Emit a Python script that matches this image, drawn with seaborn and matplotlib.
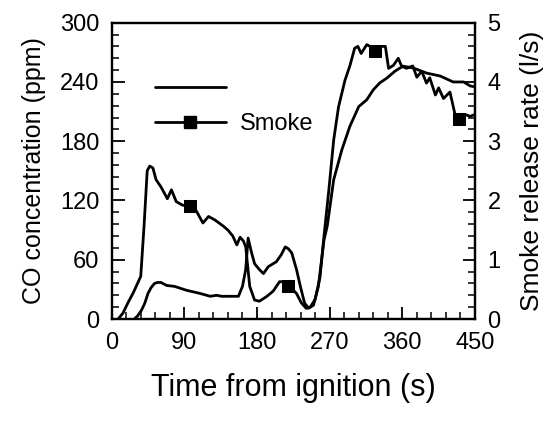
import matplotlib
matplotlib.use("Agg")
import matplotlib.pyplot as plt
import seaborn as sns
from matplotlib.lines import Line2D
from matplotlib.ticker import MultipleLocator

# ---- data ----
co_time = [28, 32, 37, 41, 45, 49, 53, 57, 61, 68, 78, 93, 109, 122, 130, 136,
           147, 157, 162, 166, 169, 173, 177, 183, 188, 194, 204, 210, 215, 219,
           223, 229, 234, 239, 244, 250, 256, 263, 267, 275, 285, 295, 306, 316,
           324, 332, 341, 351, 361, 374, 390, 407, 423, 436, 444, 450]
co_ppm = [0, 3, 9, 16, 26, 32, 36, 37, 37, 34, 33, 29, 26, 23, 24, 23,
          23, 23, 33, 50, 82, 68, 56, 50, 46, 53, 58, 65, 73, 71,
          67, 50, 32, 16, 11, 14, 33, 80, 94, 141, 171, 195, 215, 222,
          232, 239, 244, 251, 256, 254, 249, 246, 240, 240, 236, 235]

smoke_time = [8, 14, 20, 27, 33, 36, 40, 44, 47, 51, 55, 61, 69, 74, 80, 88,
              97, 105, 113, 120, 128, 138, 144, 150, 155, 159, 163, 166, 171,
              177, 183, 192, 200, 208, 215, 219, 224, 229, 235, 241, 246, 252,
              258, 263, 269, 275, 281, 289, 295, 301, 305, 309, 316, 320, 326,
              332, 339, 343, 349, 355, 359, 365, 373, 378, 384, 390, 394, 401,
              405, 411, 419, 425, 430, 438, 444, 450]
smoke_rate = [0.0, 0.1, 0.27, 0.45, 0.63, 0.72, 1.55, 2.5, 2.58, 2.55, 2.35,
              2.23, 2.03, 2.18, 1.98, 1.92, 1.9, 1.82, 1.62, 1.73, 1.67, 1.57,
              1.5, 1.4, 1.25, 1.38, 1.32, 1.22, 0.55, 0.32, 0.3, 0.38, 0.47,
              0.63, 0.63, 0.55, 0.5, 0.43, 0.27, 0.18, 0.2, 0.33, 0.7, 1.4,
              2.18, 3.02, 3.58, 4.03, 4.27, 4.57, 4.6, 4.48, 4.63, 4.6, 4.52,
              4.6, 4.6, 4.23, 4.28, 4.4, 4.27, 4.23, 4.27, 4.08, 4.18, 3.98,
              4.07, 3.78, 3.9, 3.72, 3.83, 3.47, 3.38, 3.45, 3.42, 3.45]
smoke_marker_times = [97, 219, 326, 430]

sns.set_style("ticks")
plt.rcParams["font.family"] = ["Liberation Sans", "DejaVu Sans"]
plt.rcParams["text.color"] = "black"
plt.rcParams["axes.labelcolor"] = "black"
plt.rcParams["xtick.color"] = "black"
plt.rcParams["ytick.color"] = "black"

fig = plt.figure(figsize=(5.51, 4.25), dpi=100)
ax = fig.add_axes([0.2027, 0.2494, 0.6593, 0.6972])
ax2 = ax.twinx()

lw = 2.0
sns.lineplot(x=co_time, y=co_ppm, ax=ax, color="black")
marks = [smoke_time.index(t) for t in smoke_marker_times]
sns.lineplot(x=smoke_time, y=smoke_rate, ax=ax2, color="black",
             marker="s", markersize=8.5, markeredgecolor="black",
             markerfacecolor="black", markevery=marks)
for a in (ax, ax2):
    for line in a.get_lines():
        line.set_linewidth(lw)

ax.set_xlim(0, 450)
ax.set_ylim(0, 300)
ax2.set_ylim(0, 5)

ax.xaxis.set_major_locator(MultipleLocator(90))
ax.xaxis.set_minor_locator(MultipleLocator(18))
ax.yaxis.set_major_locator(MultipleLocator(60))
ax.yaxis.set_minor_locator(MultipleLocator(12))
ax2.yaxis.set_major_locator(MultipleLocator(1))
ax2.yaxis.set_minor_locator(MultipleLocator(0.2))

for a in (ax, ax2):
    a.tick_params(which="major", direction="in", length=9, width=1.3,
                  labelsize=17, pad=9)
    a.tick_params(which="minor", direction="in", length=5, width=1.1)
    for s in a.spines.values():
        s.set_linewidth(1.6)
        s.set_color("black")

ax.set_xlabel("Time from ignition (s)", fontsize=22, labelpad=14)
ax.set_ylabel("CO concentration (ppm)", fontsize=18, labelpad=10)
ax2.set_ylabel("Smoke release rate (l/s)", fontsize=19, labelpad=14)

handles = [Line2D([], [], color="black", linewidth=lw),
           Line2D([], [], color="black", linewidth=lw, marker="s",
                  markersize=8.5, markerfacecolor="black",
                  markeredgecolor="black")]
ax.legend(handles, ["", "Smoke"], loc="upper left",
          bbox_to_anchor=(0.06, 0.885), frameon=False, fontsize=17,
          handlelength=3, handletextpad=0.6, labelspacing=0.55)

fig.savefig("out.png", dpi=100)
